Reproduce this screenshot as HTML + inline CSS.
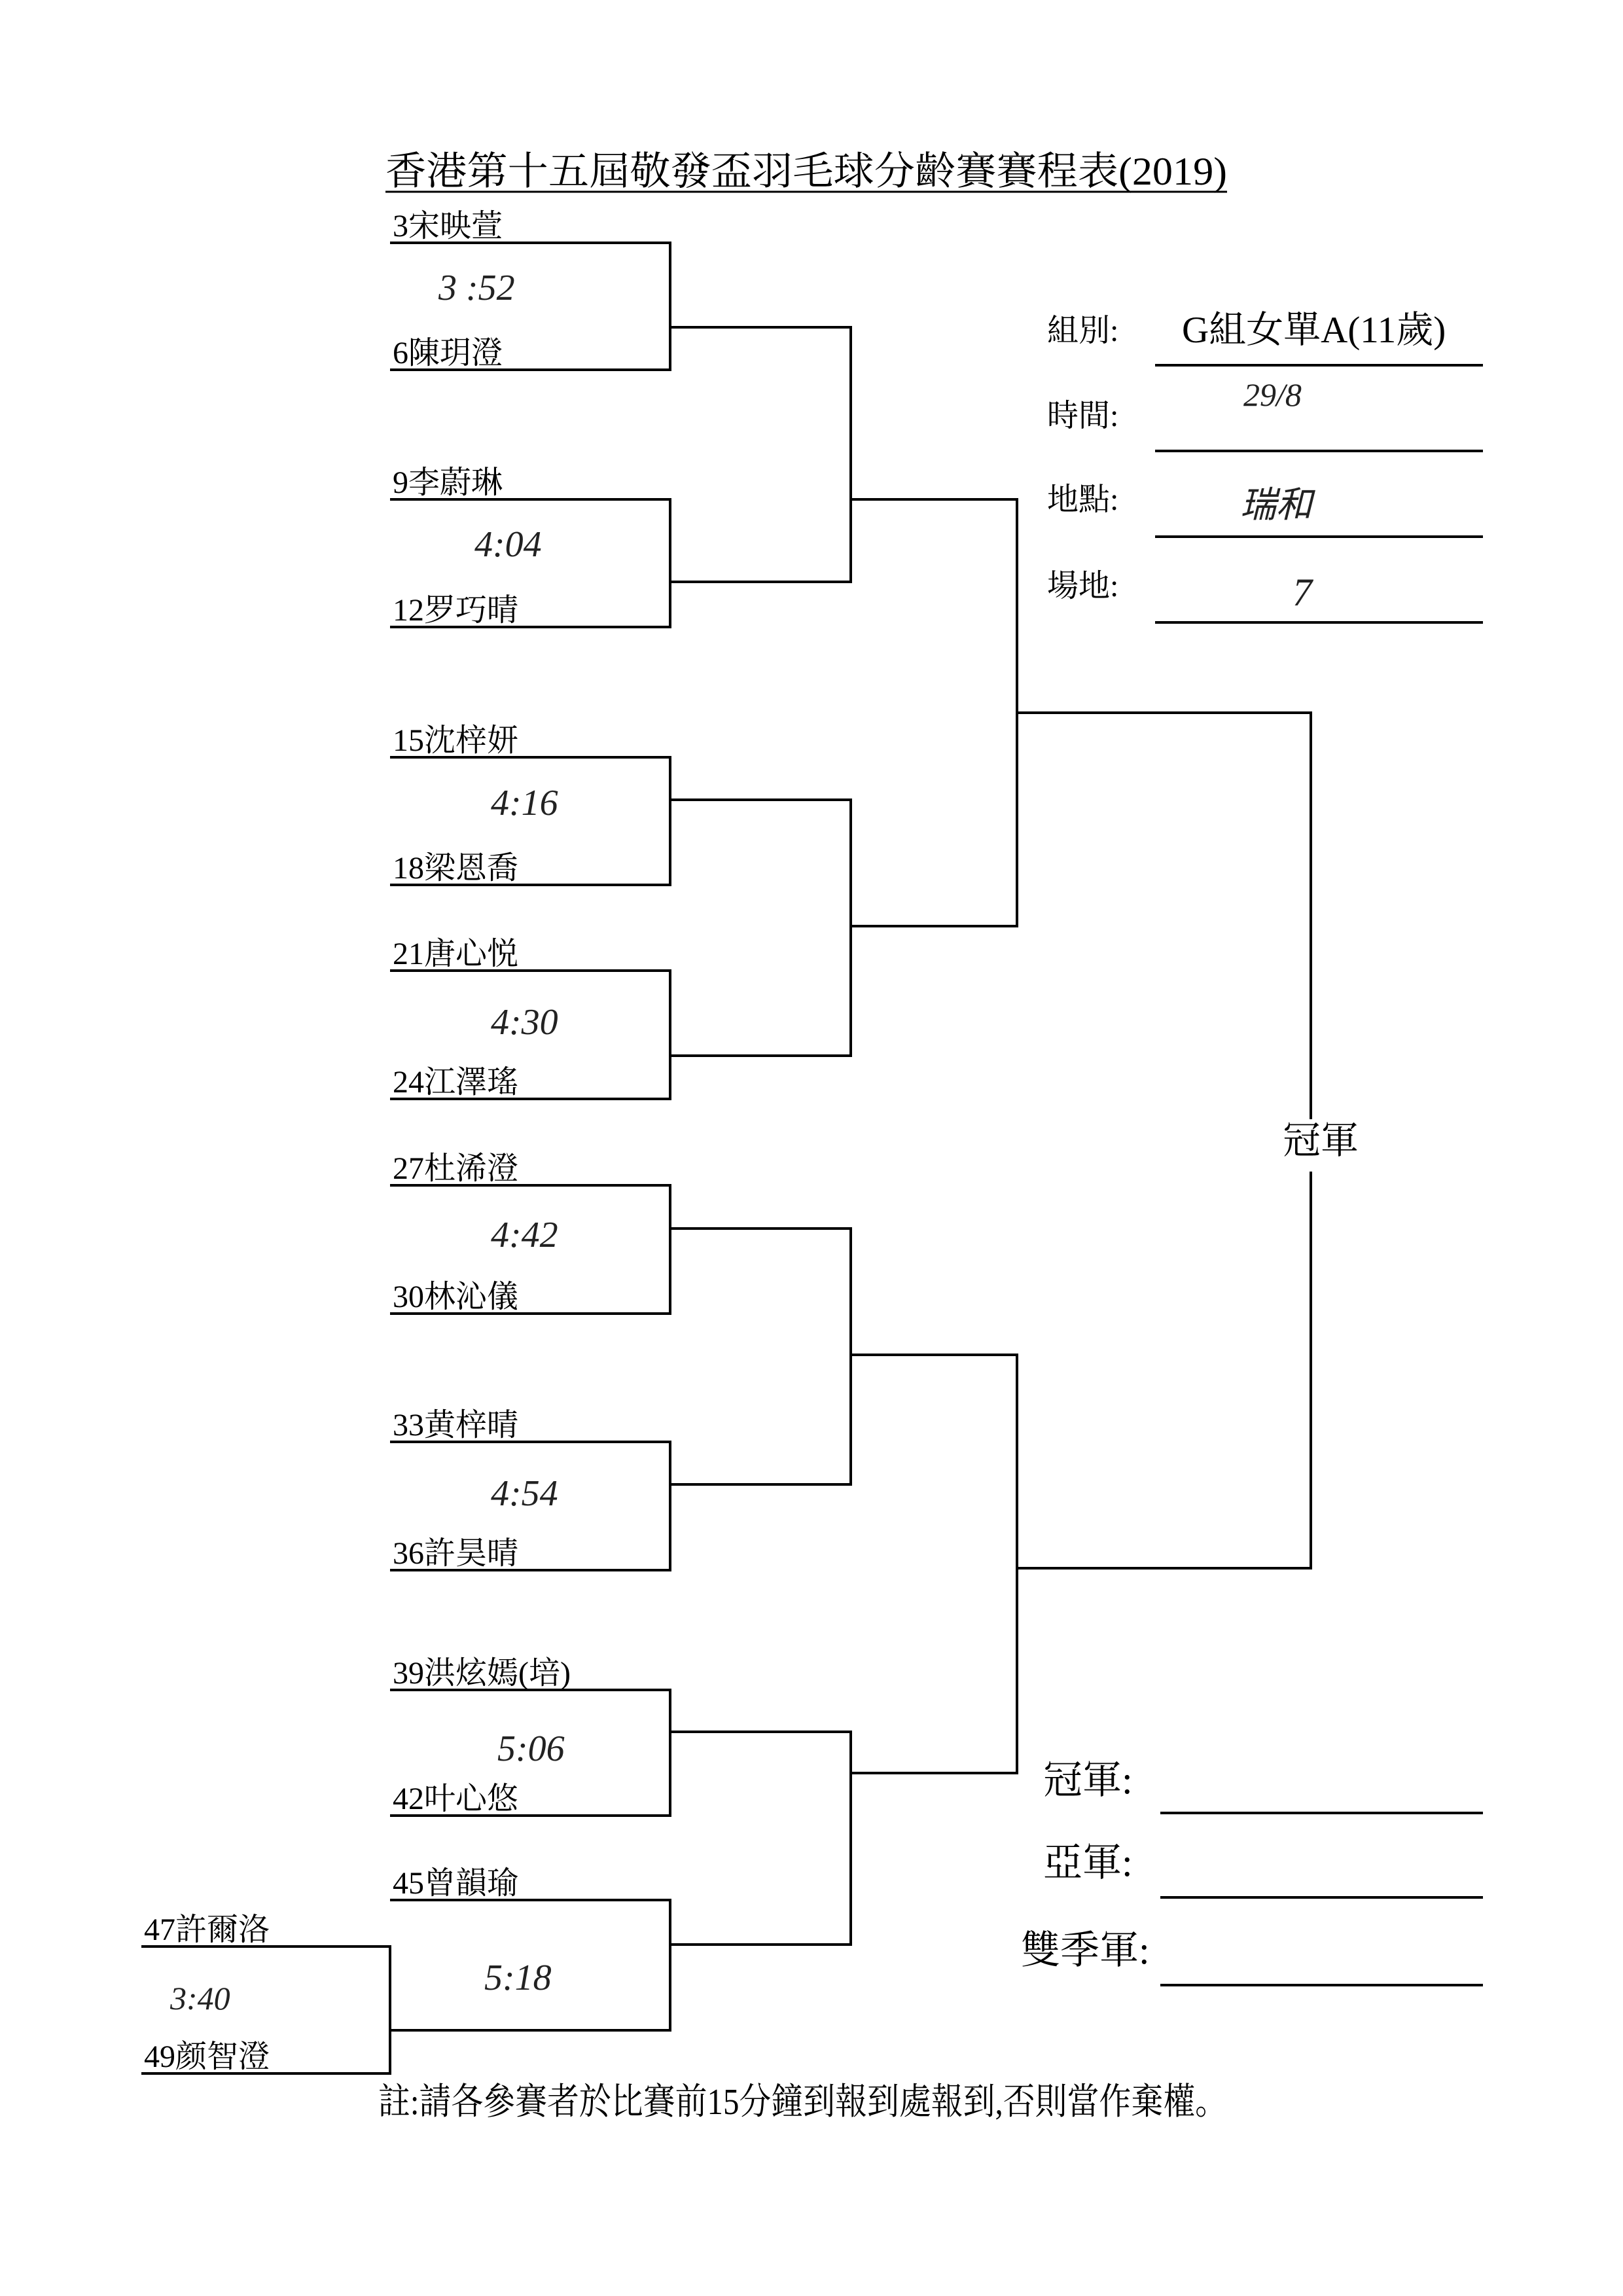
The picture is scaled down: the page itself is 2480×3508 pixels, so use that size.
<!DOCTYPE html>
<html><head><meta charset="utf-8"><style>
html,body{margin:0;padding:0;background:#fff;}
svg{display:block;}
text{font-family:"Liberation Serif","Noto Serif CJK SC","Noto Sans CJK TC",serif;fill:#000;}
.n{font-size:48px;}
.h{font-family:"Liberation Serif",serif;font-style:italic;font-size:56px;fill:#222;}
.hc{font-family:"Liberation Sans","Noto Sans CJK TC",sans-serif;font-style:italic;font-size:60px;fill:#222;}
</style></head><body>
<svg width="2480" height="3508" viewBox="0 0 2480 3508" xmlns="http://www.w3.org/2000/svg">
<g stroke="#000" stroke-width="4" fill="none">
<line x1="589" y1="293" x2="1875" y2="293" stroke-width="3"/>
<path d="M596 371H1024V565H596"/>
<path d="M596 763H1024V958H596"/>
<path d="M596 1157H1024V1352H596"/>
<path d="M596 1483H1024V1679H596"/>
<path d="M596 1811H1024V2007H596"/>
<path d="M596 2203H1024V2399H596"/>
<path d="M596 2582H1024V2774H596"/>
<path d="M596 2903H1024V3102H596"/>
<path d="M216 2974H596V3168H216"/>
<path d="M1024 500H1300V889H1024"/>
<path d="M1024 1222H1300V1613H1024"/>
<path d="M1024 1877H1300V2268H1024"/>
<path d="M1024 2646H1300V2971H1024"/>
<path d="M1300 763H1554V1415H1300"/>
<path d="M1300 2070H1554V2709H1300"/>
<path d="M1554 1089H2003V1710"/>
<path d="M2003 1790V2396H1554"/>
<line x1="1765" y1="558" x2="2266" y2="558"/>
<line x1="1765" y1="689" x2="2266" y2="689"/>
<line x1="1765" y1="820" x2="2266" y2="820"/>
<line x1="1765" y1="951" x2="2266" y2="951"/>
<line x1="1773" y1="2770" x2="2266" y2="2770"/>
<line x1="1773" y1="2899" x2="2266" y2="2899"/>
<line x1="1773" y1="3033" x2="2266" y2="3033"/>
</g>
<text x="589" y="282" style="font-size:60px" textLength="1286" lengthAdjust="spacingAndGlyphs">香港第十五屆敬發盃羽毛球分齡賽賽程表(2019)</text>

<text class="n" x="600" y="361">3宋映萱</text>
<text class="n" x="600" y="555">6陳玥澄</text>
<text class="n" x="600" y="753">9李蔚琳</text>
<text class="n" x="600" y="948">12罗巧晴</text>
<text class="n" x="600" y="1147">15沈梓妍</text>
<text class="n" x="600" y="1342">18梁恩喬</text>
<text class="n" x="600" y="1473">21唐心悦</text>
<text class="n" x="600" y="1669">24江澤瑤</text>
<text class="n" x="600" y="1801">27杜浠澄</text>
<text class="n" x="600" y="1997">30林沁儀</text>
<text class="n" x="600" y="2193">33黄梓晴</text>
<text class="n" x="600" y="2389">36許昊晴</text>
<text class="n" x="600" y="2572">39洪炫嫣(培)</text>
<text class="n" x="600" y="2764">42叶心悠</text>
<text class="n" x="600" y="2893">45曾韻瑜</text>
<text class="n" x="220" y="2964">47許爾洛</text>
<text class="n" x="220" y="3158">49颜智澄</text>

<text class="h" x="670" y="458">3 :52</text>
<text class="h" x="725" y="850">4:04</text>
<text class="h" x="750" y="1245">4:16</text>
<text class="h" x="750" y="1580">4:30</text>
<text class="h" x="750" y="1905">4:42</text>
<text class="h" x="750" y="2300">4:54</text>
<text class="h" x="760" y="2690">5:06</text>
<text class="h" x="740" y="3040">5:18</text>
<text class="h" x="260" y="3070" style="font-size:50px">3:40</text>

<text class="n" x="1600" y="521">組別:</text>
<text class="n" x="1600" y="651">時間:</text>
<text class="n" x="1600" y="779">地點:</text>
<text class="n" x="1600" y="911">場地:</text>
<text x="1806" y="523" style="font-size:57px">G組女單A(11歲)</text>
<text class="h" x="1900" y="620" style="font-size:50px">29/8</text>
<text class="hc" x="1895" y="790" style="font-size:55px">瑞和</text>
<text class="h" x="1975" y="925" style="font-size:60px">7</text>

<text x="1960" y="1762" style="font-size:58px">冠軍</text>

<text x="1594" y="2740" style="font-size:60px">冠軍:</text>
<text x="1594" y="2866" style="font-size:60px">亞軍:</text>
<text x="1560" y="3000" style="font-size:60px">雙季軍:</text>

<text x="578" y="3230" style="font-size:56px" textLength="1297" lengthAdjust="spacingAndGlyphs">註:請各參賽者於比賽前15分鐘到報到處報到,否則當作棄權。</text>
</svg>
</body></html>
